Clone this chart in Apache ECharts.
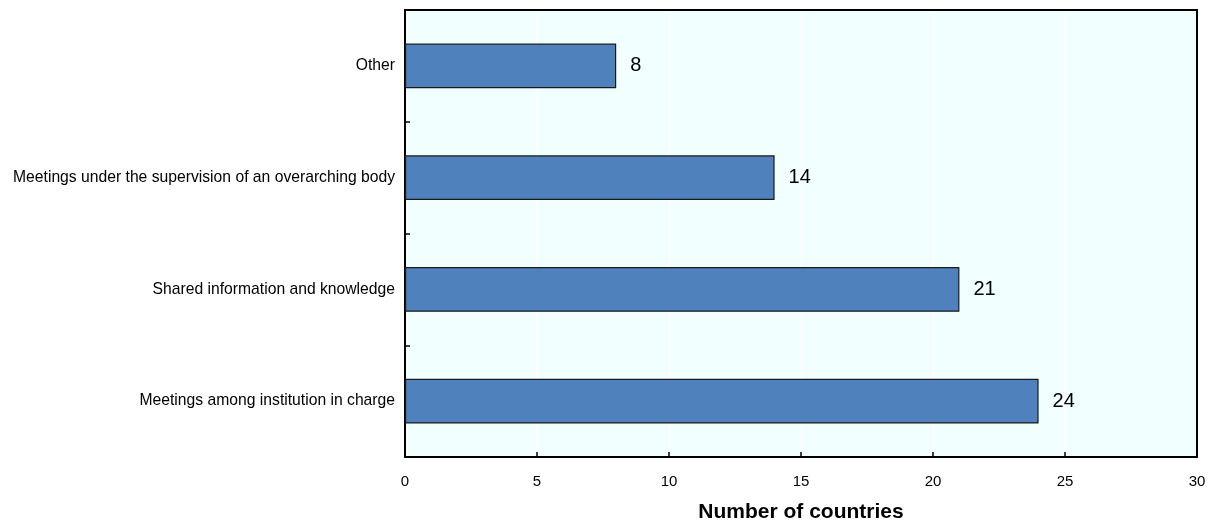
<!DOCTYPE html>
<html><head><meta charset="utf-8">
<script src="https://cdn.jsdelivr.net/npm/echarts@6/dist/echarts.min.js"></script>
<style>html,body{margin:0;padding:0;background:#fff}#c{width:1211px;height:525px}</style>
</head><body><div id="c"></div>
<script>
const categories = ["Meetings among institution in charge","Shared information and knowledge","Meetings under the supervision of an overarching body","Other"];
const values = [24, 21, 14, 8];
const xTicks = [0, 5, 10, 15, 20, 25, 30];
const FONT = "'Liberation Sans',Arial,sans-serif";
const chart = echarts.init(document.getElementById('c'));
const borderAxis = {show:true,onZero:false,lineStyle:{color:'#000',width:2}};
chart.setOption({
  animation:false,
  textStyle:{fontFamily:FONT},
  grid:{left:405,right:14,top:10,bottom:68,show:true,backgroundColor:'#F2FFFF',borderWidth:0,outerBoundsMode:'none',containLabel:false},
  xAxis:[{type:'value',min:xTicks[0],max:xTicks[xTicks.length-1],interval:5,
    name:'Number of countries',nameLocation:'middle',nameGap:45,
    nameTextStyle:{fontFamily:FONT,fontSize:21,fontWeight:'bold',color:'#000'},
    axisLine:borderAxis,
    axisTick:{show:true,inside:true,length:5,lineStyle:{color:'#000',width:1.5}},
    axisLabel:{color:'#000',fontSize:15,margin:17,fontFamily:FONT},
    splitLine:{show:true,lineStyle:{color:'#fff',width:1.5}}},
   {type:'value',position:'top',min:xTicks[0],max:xTicks[xTicks.length-1],interval:5,
    axisLine:borderAxis,axisTick:{show:false},axisLabel:{show:false},splitLine:{show:false}}],
  yAxis:[{type:'category',data:categories,
    axisLine:borderAxis,
    axisTick:{show:true,inside:true,length:5,alignWithLabel:false,lineStyle:{color:'#000',width:1.5}},
    axisLabel:{color:'#000',fontSize:15.7,margin:10,fontFamily:FONT},
    splitLine:{show:false}},
   {type:'category',data:categories,position:'right',
    axisLine:borderAxis,axisTick:{show:false},axisLabel:{show:false},splitLine:{show:false}}],
  series:[{type:'bar',data:values,barWidth:'40%',xAxisIndex:0,yAxisIndex:0,
    itemStyle:{color:'#4F81BD',borderColor:'#1a1a1a',borderWidth:1.2},
    label:{show:true,position:'right',distance:14,color:'#000',fontSize:20,fontFamily:FONT}}]
});
</script></body></html>
